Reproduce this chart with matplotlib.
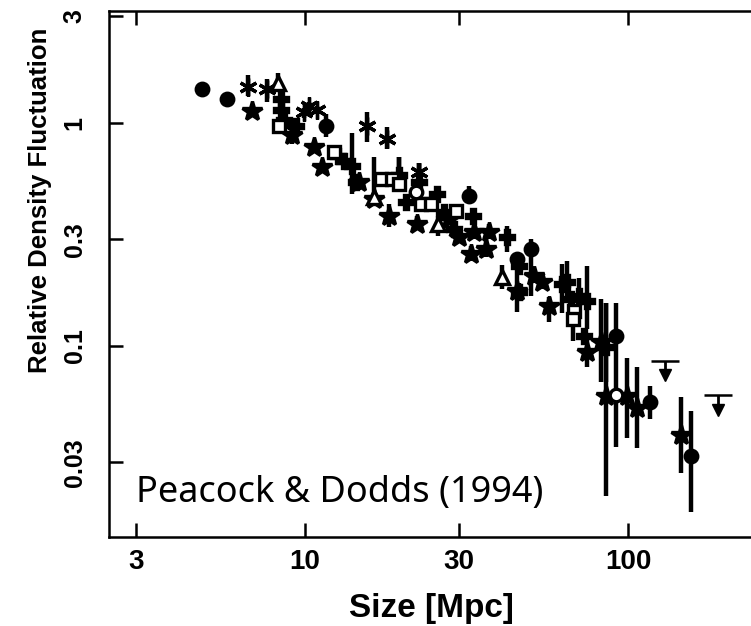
import matplotlib
matplotlib.use("Agg")
import matplotlib.pyplot as plt
import numpy as np

# size [Mpc] vs relative density fluctuation, grouped by symbol
circ_x = [4.80, 5.73, 11.6, 32.2, 45.3, 50.1, 91.8, 117, 157]
circ_y = [1.42, 1.28, 0.96, 0.47, 0.245, 0.271, 0.111, 0.056, 0.032]
circ_lo = [1.40, 1.26, 0.86, 0.44, 0.23, 0.167, 0.035, 0.047, 0.018]
circ_hi = [1.44, 1.30, 1.09, 0.52, 0.26, 0.30, 0.156, 0.066, 0.051]

astk_x = [6.66, 7.63, 9.93, 10.3, 10.9, 15.6, 17.9, 22.5]
astk_y = [1.45, 1.42, 1.11, 1.18, 1.14, 0.96, 0.84, 0.60]
astk_lo = [1.31, 1.24, 1.05, 1.12, 1.10, 0.82, 0.76, 0.53]
astk_hi = [1.64, 1.56, 1.16, 1.24, 1.18, 1.11, 0.95, 0.66]

star_x = [6.85, 9.12, 10.7, 11.3, 14.7, 16.4, 18.2, 22.2, 27.9, 30.0, 33.4, 32.7,
          36.3, 37.1, 45.3, 51.2, 54.2, 56.9, 74.6, 82.5, 85.5, 99.3, 106.7, 146]
star_y = [1.13, 0.88, 0.78, 0.63, 0.54, 0.453, 0.38, 0.35, 0.369, 0.307, 0.323, 0.257,
          0.271, 0.323, 0.176, 0.205, 0.193, 0.151, 0.094, 0.104, 0.0592, 0.0592, 0.0524, 0.0396]
star_lo = [1.10, 0.80, 0.74, 0.60, 0.50, 0.43, 0.34, 0.33, 0.35, 0.29, 0.30, 0.24,
           0.25, 0.30, 0.142, 0.19, 0.18, 0.128, 0.08, 0.069, 0.0212, 0.0385, 0.0347, 0.0268]
star_hi = [1.16, 0.95, 0.82, 0.66, 0.58, 0.70, 0.43, 0.38, 0.39, 0.333, 0.38, 0.28,
           0.30, 0.35, 0.25, 0.22, 0.21, 0.165, 0.11, 0.162, 0.156, 0.0884, 0.0798, 0.0586]

tri_x = [8.25, 16.4, 25.8, 40.7]
tri_y = [1.51, 0.463, 0.35, 0.203]
tri_lo = [1.42, 0.44, 0.31, 0.18]
tri_hi = [1.67, 0.48, 0.38, 0.23]

sq_x = [8.31, 12.3, 17.2, 18.6, 19.6, 22.9, 24.6, 29.3, 68.1, 67.5]
sq_y = [0.96, 0.74, 0.557, 0.557, 0.53, 0.43, 0.43, 0.40, 0.143, 0.132]
sq_lo = [0.93, 0.72, 0.54, 0.54, 0.487, 0.41, 0.41, 0.38, 0.135, 0.105]
sq_hi = [0.99, 0.76, 0.57, 0.57, 0.70, 0.45, 0.45, 0.42, 0.15, 0.14]

ocirc_x = [22.0, 91.8]
ocirc_y = [0.487, 0.060]

plus_x = [8.43, 8.43, 8.6, 9.38, 12.7, 13.2, 14.0, 14.4, 19.6, 20.5, 22.5, 25.6, 26.9,
          28.9, 33.1, 42.2, 46.0, 46.0, 62.5, 64.7, 66.6, 70.5, 73.1, 74.6, 85.5]
plus_y = [1.27, 1.14, 1.03, 0.96, 0.705, 0.67, 0.64, 0.54, 0.58, 0.44, 0.54, 0.477, 0.397,
          0.333, 0.38, 0.307, 0.228, 0.174, 0.189, 0.193, 0.162, 0.167, 0.111, 0.159, 0.099]
plus_lo = [1.22, 1.10, 0.95, 0.93, 0.68, 0.65, 0.477, 0.52, 0.487, 0.42, 0.50, 0.46, 0.38,
           0.32, 0.36, 0.263, 0.21, 0.16, 0.14, 0.16, 0.15, 0.15, 0.105, 0.119, 0.069]
plus_hi = [1.33, 1.18, 1.08, 0.99, 0.73, 0.69, 0.90, 0.56, 0.70, 0.46, 0.66, 0.50, 0.41,
           0.35, 0.40, 0.343, 0.24, 0.19, 0.232, 0.24, 0.175, 0.20, 0.118, 0.228, 0.156]

ulim_x = [130, 190]
ulim_y = [0.0857, 0.0598]
ulim_tip = [0.0735, 0.0513]

x_ticks = [3, 10, 30, 100]
y_ticks = [0.03, 0.1, 0.3, 1, 3]


def group(ax, x, y, lo, hi, marker, ms, mfc="black"):
    y = np.asarray(y)
    err = [y - np.asarray(lo), np.asarray(hi) - y]
    ax.errorbar(x, y, yerr=err, fmt="none", ecolor="black", elinewidth=3.2,
                capsize=0, zorder=3)
    ax.plot(x, y, linestyle="none", marker=marker, ms=ms, mfc=mfc, mec="black",
            mew=2.4, zorder=4)


fig = plt.figure(figsize=(7.51, 6.26), dpi=100)
ax = fig.add_axes([0.1451, 0.1422, 0.8549, 0.8402])
ax.set_xscale("log")
ax.set_yscale("log")
ax.set_xlim(2.475, 240)
ax.set_ylim(0.01388, 3.16)

group(ax, circ_x, circ_y, circ_lo, circ_hi, "o", 9)
group(ax, astk_x, astk_y, astk_lo, astk_hi, (6, 2, 0), 13)
group(ax, star_x, star_y, star_lo, star_hi, "*", 15)
group(ax, plus_x, plus_y, plus_lo, plus_hi, "P", 10)
group(ax, tri_x, tri_y, tri_lo, tri_hi, "^", 10, mfc="white")
group(ax, sq_x, sq_y, sq_lo, sq_hi, "s", 9, mfc="white")
ax.plot(ocirc_x, ocirc_y, "o", ms=9, mfc="white", mec="black", mew=2.4, zorder=4)

# upper limits: bar, stem and arrow head
ax.plot(ulim_x, ulim_y, "_", ms=20, mew=1.8, color="black", linestyle="none")
ax.vlines(ulim_x, ulim_tip, ulim_y, color="black", lw=2)
ax.plot(ulim_x, ulim_tip, "v", ms=8, color="black", linestyle="none")

ax.spines["right"].set_visible(False)
for s in ["left", "top", "bottom"]:
    ax.spines[s].set_linewidth(1.8)
ax.minorticks_off()
ax.set_xticks(x_ticks)
ax.set_xticklabels([str(v) for v in x_ticks])
ax.set_yticks(y_ticks)
ax.set_yticklabels([f"{v:g}" for v in y_ticks], rotation=90, va="center")
ax.tick_params(axis="both", direction="in", length=10, width=1.8, top=True)
ax.tick_params(axis="x", pad=9, labelsize=20)
ax.tick_params(axis="y", pad=16, labelsize=18)
for lab in ax.get_xticklabels() + ax.get_yticklabels():
    lab.set_fontfamily("Liberation Sans")
    lab.set_fontweight("bold")

fig.text(40 / 751, 1 - 200 / 626, "Relative Density Fluctuation", rotation=90,
         ha="center", va="center", fontsize=18.5, fontweight="bold",
         family="Liberation Sans")
fig.text(431 / 751, 1 - 608 / 626, "Size [Mpc]", ha="center", va="center",
         fontsize=24, fontweight="bold", family="Liberation Sans")
ax.text(0.042, 0.066, "Peacock & Dodds (1994)", transform=ax.transAxes,
        fontsize=26, family="Noto Sans", ha="left", va="baseline")

fig.savefig("out.png", dpi=100)
